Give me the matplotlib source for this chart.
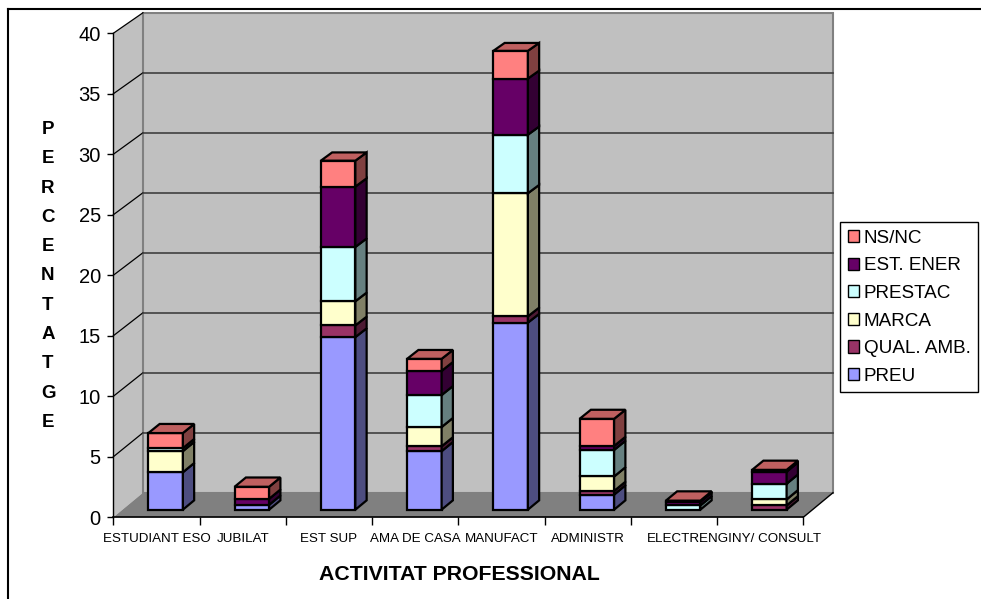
import matplotlib
matplotlib.use("Agg")
import matplotlib.pyplot as plt
from matplotlib.patches import Polygon, Patch
from matplotlib.lines import Line2D
from matplotlib.colors import to_rgb
import numpy as np

plt.rcParams["font.family"] = ["Liberation Sans", "DejaVu Sans"]

categories = ["ESTUDIANT ESO", "JUBILAT", "EST SUP", "AMA DE CASA", "MANUFACT",
              "ADMINISTR", "ELECTR", "ENGINY/ CONSULT"]
series = ["PREU", "QUAL. AMB.", "MARCA", "PRESTAC", "EST. ENER", "NS/NC"]
preu     = [3.1, 0.4, 14.3, 4.85, 15.5, 1.25, 0.0, 0.0]
qual_amb = [0.0, 0.0, 0.97, 0.4, 0.52, 0.3, 0.0, 0.35]
marca    = [1.75, 0.0, 2.0, 1.6, 10.2, 1.2, 0.0, 0.5]
prestac  = [0.25, 0.0, 4.5, 2.65, 4.85, 2.2, 0.35, 1.3]
est_ener = [0.0, 0.5, 5.0, 2.0, 4.65, 0.33, 0.3, 1.0]
ns_nc    = [1.25, 1.0, 2.15, 1.0, 2.3, 2.25, 0.1, 0.15]
colors = ["#9999ff", "#993366", "#ffffcc", "#ccffff", "#660066", "#ff8080"]
yticks = list(range(0, 41, 5))

# oblique 3-D look: depth d in [0, 1] shifts right/up, back plane slightly smaller
DX, DY, SHRINK = 0.344, 2.03, 0.0083
D0, D1, BW = 0.31, 0.69, 0.40


def proj(x, v, d):
    return (x + d * DX, v * (1 - SHRINK * d) + d * DY)


def shade(c, k):
    r, g, b = to_rgb(c)
    return (r * k, g * k, b * k)


W, H = 981, 599
fig = plt.figure(figsize=(W / 100, H / 100), dpi=100)
ax = fig.add_axes([113.3 / W, 1 - 517.3 / H, 690 / W, 484 / H])
n = len(categories)
ymax = yticks[-1]
ax.set_xlim(0, n); ax.set_ylim(0, ymax)
ax.patch.set_visible(False)
for s in ("top", "right"):
    ax.spines[s].set_visible(False)
ax.spines["left"].set_linewidth(1.0)
ax.spines["bottom"].set_linewidth(1.2)

# walls and floor
kw = dict(closed=True, clip_on=False)
ax.add_patch(Polygon([proj(0, 0, 0), proj(0, 0, 1), proj(0, ymax, 1), proj(0, ymax, 0)],
                     fc="#c0c0c0", ec="none", zorder=0, **kw))
ax.add_patch(Polygon([proj(0, 0, 1), proj(n, 0, 1), proj(n, ymax, 1), proj(0, ymax, 1)],
                     fc="#c0c0c0", ec="#808080", lw=1.5, zorder=0.1, **kw))
ax.add_patch(Polygon([proj(0, 0, 0), proj(n, 0, 0), proj(n, 0, 1), proj(0, 0, 1)],
                     fc="#808080", ec="none", zorder=0.2, **kw))
p, q = proj(n, 0, 0), proj(n, 0, 1)
ax.plot([p[0], q[0]], [p[1], q[1]], color="black", lw=1.0, clip_on=False, zorder=0.3)

for v in yticks[1:]:
    a, b = proj(0, v, 0), proj(0, v, 1)
    ax.plot([a[0], b[0]], [a[1], b[1]], color="black", lw=0.9, clip_on=False, zorder=0.4)
    if v < ymax:
        a, b = proj(0, v, 1), proj(n, v, 1)
        ax.plot([a[0], b[0]], [a[1], b[1]], color="#404040", lw=1.2, clip_on=False, zorder=0.4)

# stacked bars
stack = np.array([preu, qual_amb, marca, prestac, est_ener, ns_nc])
bottoms = np.vstack([np.zeros(n), np.cumsum(stack, axis=0)[:-1]])
top_idx = [max(k for k in range(len(series)) if stack[k, i] > 0) for i in range(n)]
f0 = 1 - SHRINK * D0
xc = np.arange(n) + 0.5
for k in range(len(series)):
    vals, base = stack[k], bottoms[k]
    m = vals > 0
    ax.bar(xc[m] + D0 * DX, vals[m] * f0, BW, bottom=base[m] * f0 + D0 * DY,
           color=colors[k], edgecolor="black", lw=1.6, zorder=3, clip_on=False)
    for i in np.where(m)[0]:
        x0, x1 = xc[i] - BW / 2, xc[i] + BW / 2
        lo, hi = base[i], base[i] + vals[i]
        ax.add_patch(Polygon([proj(x1, lo, D0), proj(x1, lo, D1), proj(x1, hi, D1), proj(x1, hi, D0)],
                             fc=shade(colors[k], 0.5), ec="black", lw=1.6, zorder=3, **kw))
        if k == top_idx[i]:
            ax.add_patch(Polygon([proj(x0, hi, D0), proj(x1, hi, D0), proj(x1, hi, D1), proj(x0, hi, D1)],
                                 fc=shade(colors[k], 0.75), ec="black", lw=1.6, zorder=3, **kw))

# axes ticks
ax.set_yticks(yticks)
ax.tick_params(axis="y", direction="out", length=4.3, width=1, pad=4.7, labelsize=14.5)
ax.set_xticks(range(n + 1))
ax.set_xticklabels([])
ax.set_xticks(xc, minor=True)
ax.set_xticklabels(categories, minor=True, fontsize=9.6)
ax.tick_params(axis="x", which="major", direction="out", length=5.8, width=1)
ax.tick_params(axis="x", which="minor", length=0, pad=11)

fig.text(459 / W, 1 - 574 / H, "ACTIVITAT PROFESSIONAL", ha="center", va="center",
         fontsize=15.3, fontweight="bold")
# vertical axis title, one letter per line
for j, ch in enumerate("PERCENTATGE"):
    fig.text(48 / W, 1 - (129.5 + j * 29.3) / H, ch, ha="center", va="center",
             fontsize=13.5, fontweight="bold")

handles = [Patch(facecolor=colors[k], edgecolor="black", lw=1.0) for k in range(len(series))][::-1]
leg = fig.legend(handles, series[::-1], loc="upper left", bbox_to_anchor=(840 / W, 1 - 222.3 / H),
                 frameon=True, fancybox=False, edgecolor="black", framealpha=1, fontsize=13.6,
                 handlelength=0.62, handleheight=0.62, handletextpad=0.25, labelspacing=0.56,
                 borderpad=0.4, borderaxespad=0)
leg.get_frame().set_linewidth(1.0)

fig.add_artist(Line2D([8 / W, 1], [1 - 9 / H, 1 - 9 / H], color="black", lw=1.5))
fig.add_artist(Line2D([8 / W, 8 / W], [0, 1 - 9 / H], color="black", lw=1.5))

fig.savefig("out.png", dpi=100)
